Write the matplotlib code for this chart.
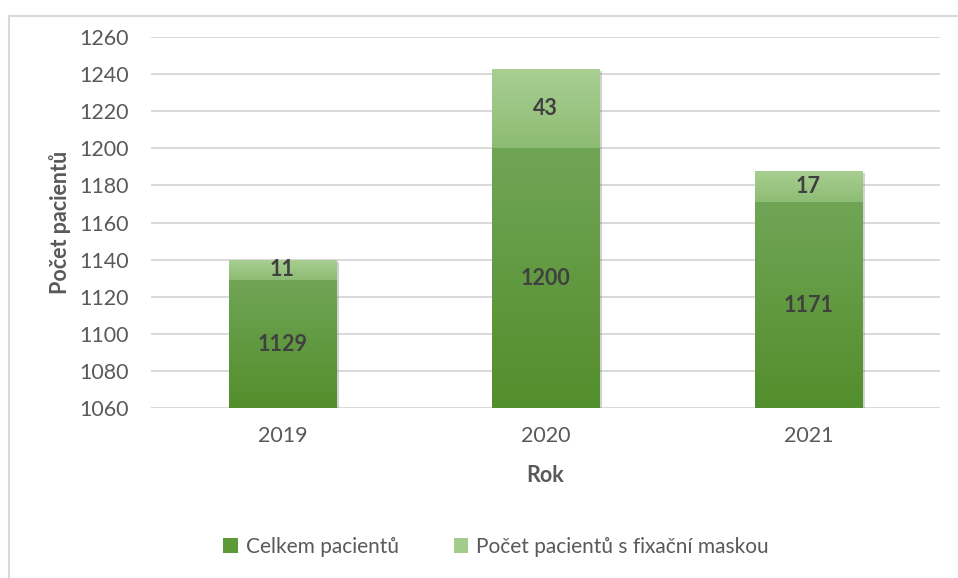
import matplotlib
matplotlib.use("Agg")
import matplotlib.pyplot as plt
import numpy as np
from matplotlib.colors import LinearSegmentedColormap
import matplotlib.patheffects as pe
from matplotlib.patches import Rectangle, Patch

# ---- data ----
years = ['2019', '2020', '2021']
celkem = [1129, 1200, 1171]
maska = [11, 43, 17]
yticks = [1060, 1080, 1100, 1120, 1140, 1160, 1180, 1200, 1220, 1240, 1260]
series_names = ['Celkem pacientů', 'Počet pacientů s fixační maskou']
series_colors = ['#5B9A37', '#A3CB8C']

plt.rcParams['font.family'] = ['Lato', 'DejaVu Sans']

fig = plt.figure(figsize=(9.58, 5.78), dpi=100)
ax = fig.add_axes([0.1576, 0.2941, 0.8236, 0.6419])

base = yticks[0]
x = np.arange(len(years))
w = 0.41
shadow = [pe.SimplePatchShadow(offset=(2, -2), shadow_rgbFace='#808080', alpha=0.35), pe.Normal()]

b1 = ax.bar(x, np.array(celkem) - base, bottom=base, width=w, color=series_colors[0],
            zorder=2, path_effects=shadow)
b2 = ax.bar(x, maska, bottom=celkem, width=w, color=series_colors[1],
            zorder=2, path_effects=shadow)

cm1 = LinearSegmentedColormap.from_list('g1', ['#538E2C', '#70A556'])
cm2 = LinearSegmentedColormap.from_list('g2', ['#8DBC74', '#A9CF93'])
grad = np.linspace(0, 1, 256).reshape(-1, 1)
for bars, cm in ((b1, cm1), (b2, cm2)):
    for r in bars:
        x0, y0 = r.get_x(), r.get_y()
        x1, y1 = x0 + r.get_width(), y0 + r.get_height()
        im = ax.imshow(grad, extent=[x0, x1, y0, y1], origin='lower', cmap=cm,
                       aspect='auto', zorder=3, interpolation='bilinear')
        im.set_clip_path(r)

ax.bar_label(b1, labels=[str(v) for v in celkem], label_type='center',
             fontsize=15.5, fontweight='bold', color='#404040')
ax.bar_label(b2, labels=[str(v) for v in maska], label_type='center',
             fontsize=15.5, fontweight='bold', color='#404040')
for t in ax.texts:
    t.set_zorder(5)

ax.set_xlim(-0.5, 2.5)
ax.set_ylim(yticks[0], yticks[-1])
ax.set_yticks(yticks)
ax.set_xticks(x)
ax.set_xticklabels(years)
ax.grid(axis='y', color='#D9D9D9', linewidth=1.4, zorder=0)
ax.set_axisbelow(True)
for s in ax.spines.values():
    s.set_visible(False)
ax.tick_params(axis='both', length=0, labelsize=15.5, labelcolor='#595959')
ax.tick_params(axis='y', pad=16)
ax.tick_params(axis='x', pad=13)

ax.set_ylabel('Počet pacientů', fontsize=15.5, fontweight='bold', color='#595959')
ax.yaxis.set_label_coords(-0.1153, 0.5)
ax.set_xlabel('Rok', fontsize=15.5, fontweight='bold', color='#595959')
ax.xaxis.set_label_coords(0.5, -0.183)
ax.xaxis.label.set_va('center')
ax.yaxis.label.set_va('center')

handles = [Patch(facecolor=c, edgecolor='none') for c in series_colors]
leg = fig.legend(handles=handles, labels=series_names, loc='center',
                 bbox_to_anchor=(0.518, 0.0536), ncol=2, frameon=False,
                 handlelength=0.7, handleheight=0.7, handletextpad=0.4,
                 columnspacing=2.6, prop={'size': 15})
for t in leg.get_texts():
    t.set_color('#595959')

fig.patches.append(Rectangle((9 / 958, -0.05), 1.2, 1.036 - 8 / 578, transform=fig.transFigure,
                             fill=False, edgecolor='#D9D9D9', linewidth=1.5))

fig.savefig('out.png', dpi=100)
